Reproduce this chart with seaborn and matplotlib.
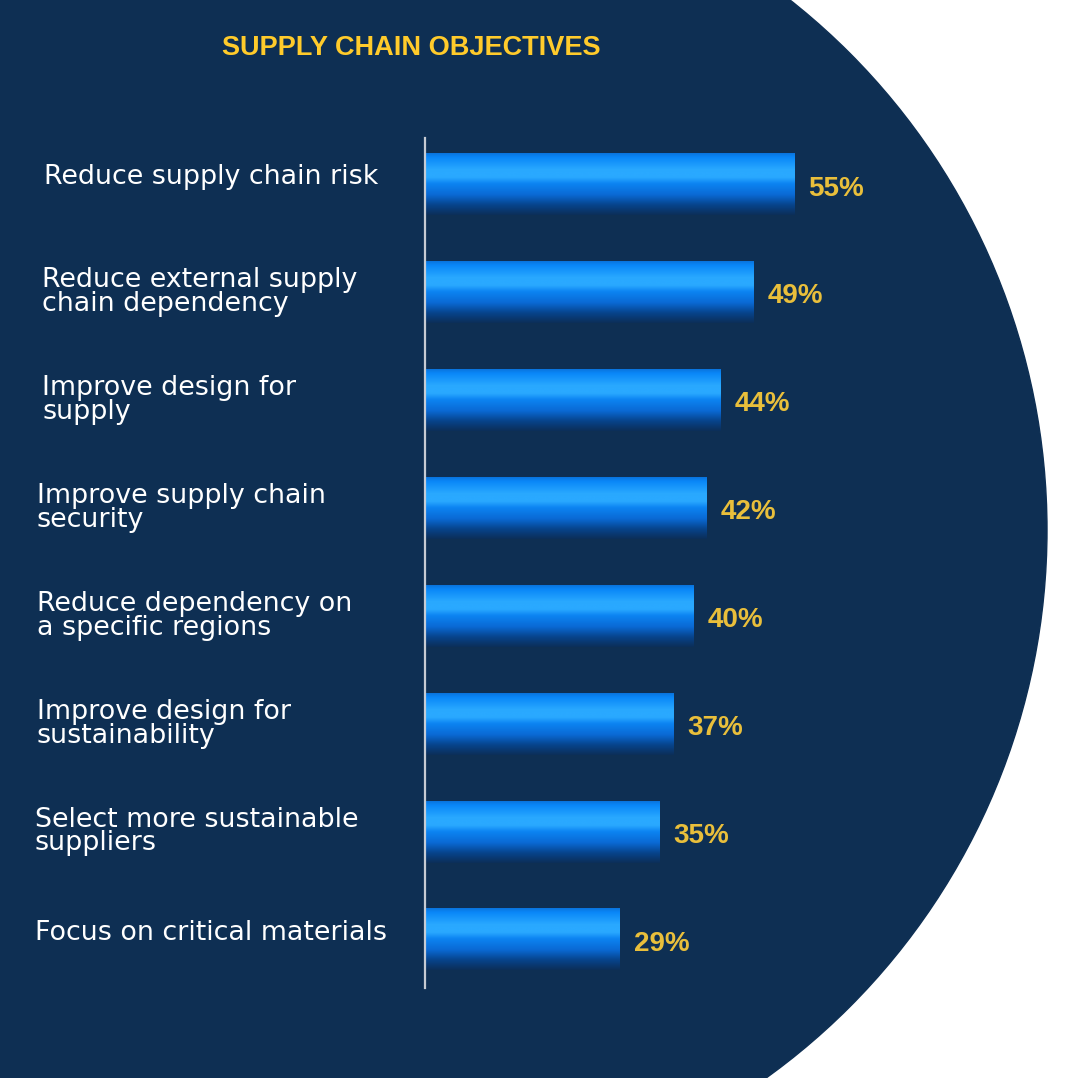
import numpy as np
import pandas as pd
import matplotlib
matplotlib.use("Agg")
import matplotlib.pyplot as plt
import matplotlib.transforms as mtransforms
from matplotlib import font_manager
from matplotlib.colors import LinearSegmentedColormap
from matplotlib.patches import Circle
import seaborn as sns

# data
categories = [
    "Reduce supply chain risk",
    "Reduce external supply\nchain dependency",
    "Improve design for\nsupply",
    "Improve supply chain\nsecurity",
    "Reduce dependency on\na specific regions",
    "Improve design for\nsustainability",
    "Select more sustainable\nsuppliers",
    "Focus on critical materials",
]
values = [55, 49, 44, 42, 40, 37, 35, 29]
title = "SUPPLY CHAIN OBJECTIVES"

W, H = 1066, 1078
navy = "#0e2f53"
title_yellow = "#ffcb2b"
value_yellow = "#e9bf3b"

sns.set_theme(style="white")
names = {f.name for f in font_manager.fontManager.ttflist}
narrow = "Liberation Sans Narrow" if "Liberation Sans Narrow" in names else "Liberation Sans"

df = pd.DataFrame({"objective": categories, "share": values})

fig = plt.figure(figsize=(W / 100, H / 100), dpi=100)
fig.patch.set_facecolor("white")

# background disc
bg = fig.add_axes([0, 0, 1, 1])
bg.set_xlim(0, W)
bg.set_ylim(H, 0)
bg.axis("off")
bg.add_patch(Circle((372, 530), 675, color=navy, zorder=0))

# main bar axes, placed in pixels
left, right, top, bottom = 425, 962, 138, 988
ax = fig.add_axes([left / W, 1 - bottom / H, (right - left) / W, (bottom - top) / H])
ax.patch.set_alpha(0)

sns.barplot(data=df, x="share", y="objective", orient="h", color="#0a86f5",
            width=0.575, ax=ax, saturation=1)
ax.set_xlabel("")
ax.set_ylabel("")
ax.set_xticks([])
ax.set_yticks([])
for s in ["top", "right", "bottom"]:
    ax.spines[s].set_visible(False)
ax.spines["left"].set_color("#c6cbd3")
ax.spines["left"].set_linewidth(1.6)
ax.spines["left"].set_zorder(5)

# vertical glossy gradient for each bar
grad = LinearSegmentedColormap.from_list("bar", [
    (0.0, "#0a6fd6"), (0.08, "#0987f8"), (0.28, "#2aa9ff"), (0.40, "#2aa9ff"),
    (0.50, "#0c84f2"), (0.68, "#0a69d4"), (0.84, "#07448c"), (1.0, "#0c2e58"),
])
g = np.linspace(0, 1, 256).reshape(-1, 1)
for p in ax.patches:
    x0, y0 = p.get_x(), p.get_y()
    w, h = p.get_width(), p.get_height()
    im = ax.imshow(g, cmap=grad, aspect="auto", extent=(x0, x0 + w, y0 + h, y0),
                   origin="upper", zorder=3, interpolation="bicubic")
    im.set_clip_path(p)
    p.set_edgecolor("none")
ax.set_xlim(0, 80)
ax.set_ylim(7.45, -0.43)

# category labels at left
label_x = [44, 42, 42, 37, 37, 37, 35, 35]
trans = mtransforms.blended_transform_factory(fig.transFigure, ax.transData)
for i, (lab, lx) in enumerate(zip(categories, label_x)):
    dy = 0 if "\n" in lab else 5
    ax.annotate(lab, (lx / W, i), xycoords=trans, xytext=(0, dy),
                textcoords="offset points", ha="left", va="center",
                color="white", fontsize=19.4, family="DejaVu Sans",
                linespacing=0.88)

# value labels
for i, v in enumerate(values):
    ax.annotate(f"{v}%", (v, i), xytext=(10, -3), textcoords="offset points",
                ha="left", va="center", color=value_yellow, fontsize=20,
                fontweight="bold", family=narrow, zorder=6)

fig.text(411 / W, 1 - 48 / H, title, ha="center", va="center",
         color=title_yellow, fontsize=19.5, fontweight="bold",
         family="Liberation Sans")

fig.savefig("out.png", dpi=100, facecolor="white")
